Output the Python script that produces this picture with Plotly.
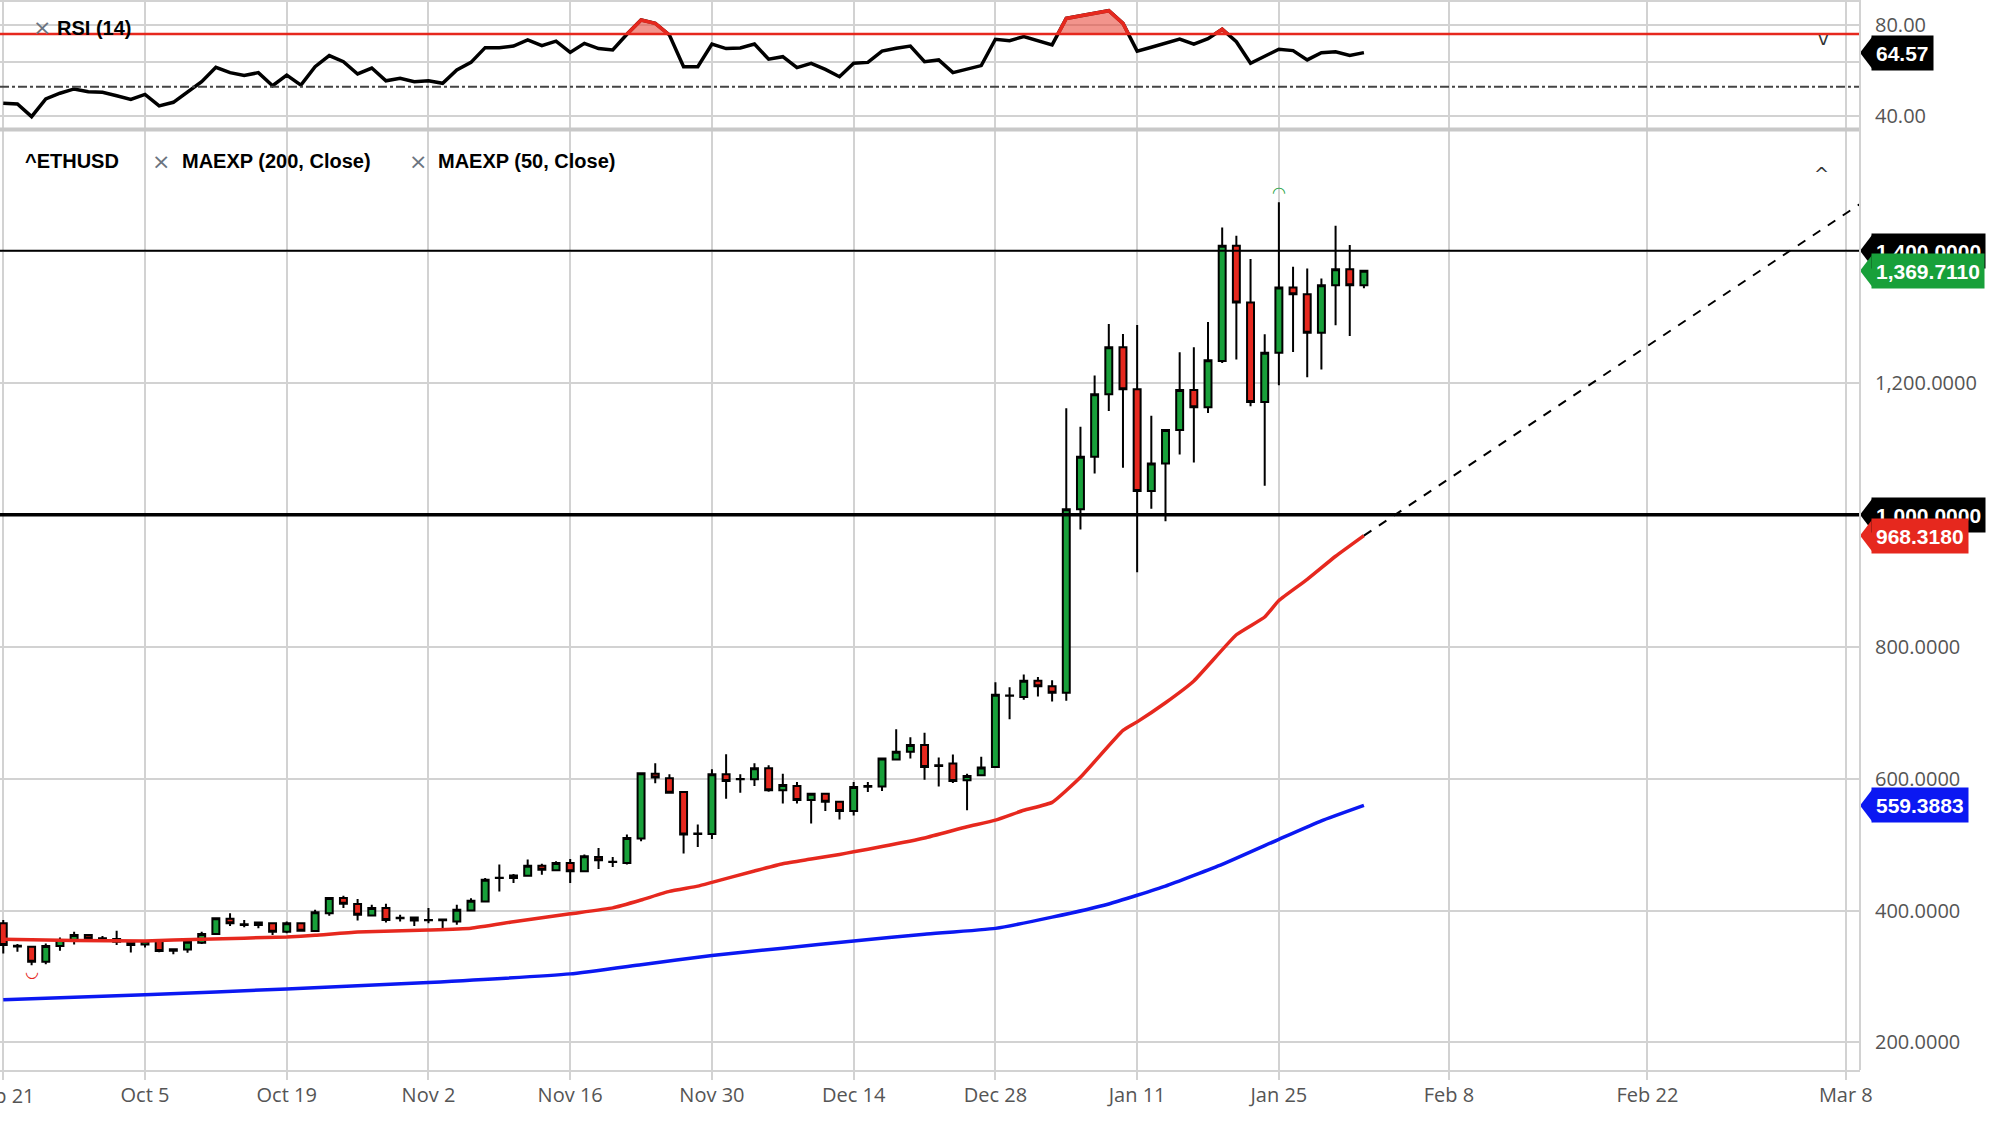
import pandas as pd
import plotly.graph_objects as go

# ETH/USD daily candles (weekdays only), Sep 21 2020 - Feb 2 2021
dates = pd.bdate_range("2020-09-21", "2021-02-02")

opens = [380.7, 345.5, 345.1, 322.2, 346.1, 354.2, 362.9, 357.3, 356.8, 352.7,
         348.6, 353.7, 339.0, 341.0, 351.2, 364.4, 387.4, 378.2, 378.2, 380.7,
         368.0, 380.7, 369.0, 396.0, 418.9, 409.8, 392.4, 403.7, 388.9, 389.4,
         385.8, 386.4, 383.3, 400.1, 413.8, 449.3, 449.3, 452.8, 468.0, 460.9,
         472.1, 459.4, 481.2, 473.6, 472.1, 509.1, 607.5, 600.4, 579.6, 516.2,
         516.2, 606.5, 598.9, 598.9, 615.7, 582.2, 588.8, 567.5, 577.1, 564.9,
         550.7, 587.7, 588.2, 628.9, 640.6, 650.8, 619.2, 622.8, 597.4, 605.0,
         617.7, 725.5, 723.5, 748.4, 739.8, 730.3, 1008.1, 1087.7, 1182.5, 1254.0,
         1190.1, 1036.0, 1077.6, 1128.3, 1189.1, 1162.7, 1232.8, 1407.7, 1321.5, 1171.0,
         1245.5, 1344.3, 1334.2, 1275.9, 1347.9, 1372.2, 1347.9]
highs = [385.8, 349.2, 346.1, 350.2, 359.3, 368.0, 364.4, 361.4, 369.5, 355.3,
         355.3, 355.3, 342.5, 355.3, 368.0, 389.9, 396.0, 385.8, 383.3, 381.7,
         383.3, 381.7, 401.1, 420.5, 422.5, 417.4, 408.7, 410.3, 393.5, 390.9,
         403.7, 386.9, 408.7, 418.8, 449.3, 469.6, 455.4, 477.2, 471.1, 474.6,
         478.2, 484.8, 494.9, 481.2, 515.2, 609.1, 623.3, 606.5, 581.2, 530.4,
         614.1, 637.0, 606.5, 623.3, 620.2, 607.5, 594.9, 578.6, 578.6, 566.0,
         594.9, 594.8, 631.9, 674.7, 662.5, 669.6, 631.9, 636.5, 607.5, 633.0,
         745.9, 738.3, 757.6, 754.0, 748.9, 1161.2, 1133.3, 1210.9, 1289.0, 1273.8,
         1287.5, 1150.1, 1129.5, 1246.4, 1254.0, 1292.0, 1435.5, 1422.9, 1387.4, 1273.4,
         1473.5, 1375.7, 1373.2, 1358.0, 1438.1, 1408.7, 1371.2]
lows = [334.9, 337.4, 317.1, 318.6, 339.0, 348.6, 352.7, 353.7, 347.6, 336.4,
        344.1, 336.9, 333.9, 335.9, 349.2, 362.9, 376.7, 374.6, 373.1, 362.9,
        365.5, 368.0, 368.0, 392.0, 403.7, 384.8, 390.9, 381.7, 383.3, 376.7,
        380.7, 371.6, 378.3, 398.5, 412.7, 429.0, 441.7, 451.8, 454.4, 459.4,
        441.7, 458.4, 463.0, 466.0, 469.6, 505.1, 592.8, 577.1, 486.3, 496.4,
        508.6, 569.5, 578.6, 588.8, 580.2, 562.4, 562.4, 532.0, 550.7, 538.1,
        544.1, 579.5, 581.1, 627.9, 630.4, 598.4, 588.2, 593.3, 552.0, 603.9,
        616.2, 689.9, 719.4, 724.5, 716.9, 718.0, 977.7, 1062.4, 1157.2, 1071.0,
        912.8, 1009.1, 989.9, 1091.3, 1079.1, 1154.0, 1230.0, 1235.4, 1164.5, 1043.9,
        1196.4, 1246.5, 1208.5, 1220.2, 1287.1, 1270.9, 1343.3]
closes = [347.6, 346.5, 322.2, 346.1, 355.3, 362.9, 357.8, 357.9, 352.7, 347.6,
          353.7, 338.5, 341.5, 352.7, 364.4, 388.4, 380.7, 379.2, 381.7, 368.0,
          380.7, 369.5, 397.5, 418.9, 410.3, 393.5, 403.7, 385.8, 388.4, 384.8,
          385.3, 385.4, 401.1, 414.8, 446.7, 449.8, 453.3, 468.0, 462.0, 472.1,
          459.4, 482.2, 476.2, 474.1, 510.1, 608.1, 601.5, 578.6, 515.2, 516.7,
          606.5, 596.4, 599.4, 615.7, 582.2, 590.3, 567.5, 577.1, 564.9, 550.7,
          587.3, 588.7, 630.4, 640.6, 650.8, 617.7, 620.2, 596.3, 604.0, 616.7,
          727.1, 726.0, 748.4, 739.8, 730.3, 1008.1, 1087.7, 1182.5, 1254.0, 1190.1,
          1036.0, 1077.6, 1128.3, 1189.1, 1162.7, 1234.0, 1407.7, 1321.5, 1171.0, 1245.5,
          1344.3, 1334.2, 1275.9, 1347.9, 1372.2, 1347.9, 1369.711]

# exponential moving averages, read at selected candles
ema50_idx = [0, 5, 10, 14, 20, 22, 25, 30, 33, 36, 40, 43, 45, 47, 49, 50, 53, 55, 57,
             59, 60, 62, 65, 68, 70, 72, 74, 76, 79, 80, 82, 84, 87, 89, 90, 92, 94, 96]
ema50 = [356.3, 354.5, 354.0, 356.5, 360.0, 362.5, 367.5, 370.5, 373.2, 383.0, 395.0,
         404.0, 416.0, 429.0, 437.0, 442.7, 460.0, 471.0, 478.0, 485.0, 489.0, 497.0,
         510.0, 527.0, 537.0, 552.0, 564.0, 602.0, 673.0, 686.0, 715.0, 748.0, 818.0,
         845.0, 870.0, 902.0, 937.0, 968.318]
ema200_idx = [0, 10, 20, 30, 40, 45, 50, 55, 60, 65, 70, 74, 78, 82, 86, 90, 93, 96]
ema200 = [264.6, 272.5, 281.0, 291.0, 304.0, 318.0, 332.0, 343.0, 354.0, 364.0, 373.0,
          390.0, 410.0, 437.0, 470.0, 508.0, 536.0, 559.3883]

# RSI(14) per candle
rsi = [45.5, 45.2, 39.6, 47.4, 49.9, 51.8, 50.6, 50.3, 48.8, 47.2,
       49.4, 44.3, 45.9, 50.3, 55.0, 61.3, 59.0, 57.7, 59.0, 53.2,
       57.9, 53.5, 61.6, 66.5, 63.8, 58.4, 61.0, 55.4, 56.5, 55.0,
       55.4, 54.3, 60.2, 63.5, 70.0, 70.0, 70.7, 73.4, 70.9, 72.9,
       67.9, 71.9, 69.6, 69.0, 75.9, 82.2, 80.7, 75.6, 61.6, 61.6,
       71.6, 69.6, 69.9, 71.6, 64.9, 66.0, 61.2, 63.1, 60.4, 57.2,
       63.1, 63.5, 68.5, 69.7, 70.7, 63.8, 64.6, 59.0, 60.4, 62.1,
       73.7, 73.1, 74.9, 73.1, 71.2, 82.9, 84.1, 85.4, 86.3, 80.7,
       68.5, 70.2, 71.9, 73.8, 71.6, 74.0, 78.1, 72.6, 63.1, 66.3,
       69.3, 68.7, 64.6, 67.8, 68.2, 66.6, 67.8]
rsi_last_label = "64.57"
rsi_overbought = 76.0
rsi_mid = 52.8
rsi_grid = [40, 63.8, 80]
rsi_grid_text = ["40.00", "", "80.00"]

price_levels = [1400, 1000]
price_level_widths = [2, 3.5]
trend_x = [96, 131.0]
trend_y = [968.318, 1471.0]

tick_dates = ["2020-09-21", "2020-10-05", "2020-10-19", "2020-11-02", "2020-11-16",
              "2020-11-30", "2020-12-14", "2020-12-28", "2021-01-11", "2021-01-25",
              "2021-02-08", "2021-02-22", "2021-03-08"]

GREEN = "#18a03a"
RED = "#e6281e"
BLUE = "#0b18f2"
GRID = "#d2d2d2"
W, H = 1860, 1070  # plot area in pixels


def xpos(d):
    d = pd.Timestamp(d)
    if d <= dates[-1]:
        return int(dates.get_loc(d))
    return len(dates) - 1 + (d - dates[-1]).days  # calendar days after last bar


def px(x):
    return x / W


def py(y):
    return 1 - y / H


x = list(range(len(dates)))
tickvals = [xpos(d) for d in tick_dates]
ticktext = [pd.Timestamp(d).strftime("%b %-d") for d in tick_dates]

fig = go.Figure()

fig.add_trace(go.Candlestick(
    x=x, open=opens, high=highs, low=lows, close=closes,
    increasing=dict(fillcolor=GREEN, line=dict(color="black", width=2)),
    decreasing=dict(fillcolor=RED, line=dict(color="black", width=2)),
    whiskerwidth=0, showlegend=False, xaxis="x", yaxis="y"))

fig.add_trace(go.Scatter(x=ema50_idx, y=ema50, mode="lines",
                         line=dict(color=RED, width=3.5, shape="spline", smoothing=0.4),
                         showlegend=False))
fig.add_trace(go.Scatter(x=ema200_idx, y=ema200, mode="lines",
                         line=dict(color=BLUE, width=3.5, shape="spline", smoothing=0.4),
                         showlegend=False))
fig.add_trace(go.Scatter(x=trend_x, y=trend_y, mode="lines",
                         line=dict(color="black", width=2, dash="dash"), showlegend=False))

# highest high / lowest low markers
i_hi = highs.index(max(highs))
i_lo = lows.index(min(lows))
fig.add_trace(go.Scatter(x=[i_hi], y=[highs[i_hi]], mode="text", text=["◠"],
                         textposition="top center", textfont=dict(color=GREEN, size=16),
                         showlegend=False))
fig.add_trace(go.Scatter(x=[i_lo], y=[lows[i_lo]], mode="text", text=["◡"],
                         textposition="bottom center", textfont=dict(color=RED, size=16),
                         showlegend=False))

# RSI pane
fig.add_trace(go.Scatter(x=x, y=rsi, mode="lines", line=dict(color="black", width=3.5),
                         xaxis="x2", yaxis="y2", showlegend=False))

# overbought areas, closed on the threshold line
runs = []
cur = None
for k in range(len(rsi)):
    above = rsi[k] > rsi_overbought
    if k > 0 and (rsi[k - 1] > rsi_overbought) != above:
        t = (rsi_overbought - rsi[k - 1]) / (rsi[k] - rsi[k - 1])
        xc = k - 1 + t
        if above:
            cur = ([xc], [rsi_overbought])
        else:
            cur[0].append(xc)
            cur[1].append(rsi_overbought)
            runs.append(cur)
            cur = None
    if above:
        if cur is None:
            cur = ([k], [rsi_overbought])
        cur[0].append(k)
        cur[1].append(rsi[k])
for rx, ry in runs:
    fig.add_trace(go.Scatter(x=rx, y=ry, mode="lines", fill="toself",
                             fillcolor="rgba(232,60,45,0.55)",
                             line=dict(color=RED, width=3.5),
                             xaxis="x2", yaxis="y2", showlegend=False))


def level(y, yref, color, width, dash="solid"):
    fig.add_shape(type="line", xref="paper", yref=yref, x0=0, x1=1, y0=y, y1=y,
                  line=dict(color=color, width=width, dash=dash))


level(rsi_overbought, "y2", RED, 2.5)
level(rsi_mid, "y2", "#444444", 2, "dashdot")
for lvl, lw in zip(price_levels, price_level_widths):
    level(lvl, "y", "black", lw)


def tag(y, yref, text, color):
    fig.add_shape(type="path", xref="paper", yref=yref, xsizemode="pixel",
                  ysizemode="pixel", xanchor=1, yanchor=y,
                  path="M 0,0 L 13,17 L 13,-17 Z", fillcolor=color, line=dict(width=0))
    fig.add_annotation(x=1, xref="paper", y=y, yref=yref, xanchor="left", xshift=11,
                       text="<b>" + text + "</b>", showarrow=False, bgcolor=color,
                       borderpad=4, height=26,
                       font=dict(color="white", size=21, family="Liberation Sans"))


tag(price_levels[0], "y", f"{price_levels[0]:,.4f}", "black")
tag(closes[-1], "y", f"{closes[-1]:,.4f}", GREEN)
tag(price_levels[1], "y", f"{price_levels[1]:,.4f}", "black")
tag(ema50[-1], "y", f"{ema50[-1]:,.4f}", RED)
tag(ema200[-1], "y", f"{ema200[-1]:,.4f}", BLUE)
tag(rsi[-1], "y2", rsi_last_label, "black")

# pane borders
fig.add_shape(type="line", xref="paper", yref="paper", x0=0, x1=1,
              y0=py(129.5), y1=py(129.5), line=dict(color="#c8c8c8", width=4))
fig.add_shape(type="line", xref="paper", yref="paper", x0=0, x1=1,
              y0=py(1), y1=py(1), line=dict(color=GRID, width=2))
fig.add_shape(type="line", xref="paper", yref="paper", x0=1, x1=1,
              y0=0, y1=1, line=dict(color=GRID, width=2))

# pane captions
label_font = dict(color="black", size=20, family="Liberation Sans")
x_font = dict(color="#6b7480", size=22, family="DejaVu Sans")
captions = [
    (31, 28, "×", x_font), (55, 28, "<b>RSI (14)</b>", label_font),
    (23, 161, "<b>^ETHUSD</b>", label_font), (150, 161, "×", x_font),
    (180, 161, "<b>MAEXP (200, Close)</b>", label_font), (407, 161, "×", x_font),
    (436, 161, "<b>MAEXP (50, Close)</b>", label_font),
]
for cx, cy, text, font in captions:
    fig.add_annotation(x=px(cx), y=py(cy), xref="paper", yref="paper", text=text,
                       xanchor="left", yanchor="middle", showarrow=False, font=font)
for cy, text in [(26, "v"), (161, "^")]:
    fig.add_annotation(x=px(1831), y=py(cy), xref="paper", yref="paper", text=text,
                       showarrow=False, font=dict(color="#333", size=18, family="DejaVu Sans"))

tick_font = dict(color="#555555", size=20, family="Open Sans")
xrange = [-0.23, 131.0]

# the first date label sits on the left edge and is cut by it, as in the source chart;
# drawn as an annotation so the axis does not hide it or push the margin
fig.add_annotation(x=tickvals[0], xref="x", y=0, yref="paper", yanchor="middle",
                   yshift=-25, text=ticktext[0], showarrow=False, font=tick_font)
axis_text = [""] + ticktext[1:]

fig.update_layout(
    width=2000, height=1122,
    margin=dict(l=0, r=140, t=0, b=1122 - H),
    paper_bgcolor="white", plot_bgcolor="white",
    showlegend=False,
    xaxis=dict(range=xrange, tickvals=tickvals, ticktext=axis_text, showgrid=True,
               gridcolor=GRID, gridwidth=2, ticks="outside", ticklen=8, tickcolor=GRID,
               tickwidth=2, showline=True, linecolor=GRID, linewidth=2, zeroline=False,
               tickfont=tick_font, ticklabelstandoff=-2,
               rangeslider=dict(visible=False), anchor="y"),
    yaxis=dict(domain=[0, py(131)], range=[158.3, 1581.6], side="right",
               tickvals=[200, 400, 600, 800, 1000, 1200, 1400], tickformat=",.4f",
               showgrid=True, gridcolor=GRID, gridwidth=2, zeroline=False,
               tickfont=tick_font, ticklabelstandoff=14, anchor="x"),
    xaxis2=dict(range=xrange, tickvals=tickvals, showticklabels=False, showgrid=True,
                gridcolor=GRID, gridwidth=2, zeroline=False, anchor="y2", matches="x"),
    yaxis2=dict(domain=[py(128), py(1)], range=[34.57, 90.58], side="right",
                tickvals=rsi_grid, ticktext=rsi_grid_text, showgrid=True, gridcolor=GRID,
                gridwidth=2, zeroline=False, tickfont=tick_font, ticklabelstandoff=14,
                anchor="x2"),
)

# the page's default body margin would shift the chart by 8px
fig.write_html("out.html", config={"displayModeBar": False},
               post_script="document.body.style.margin='0px';")
